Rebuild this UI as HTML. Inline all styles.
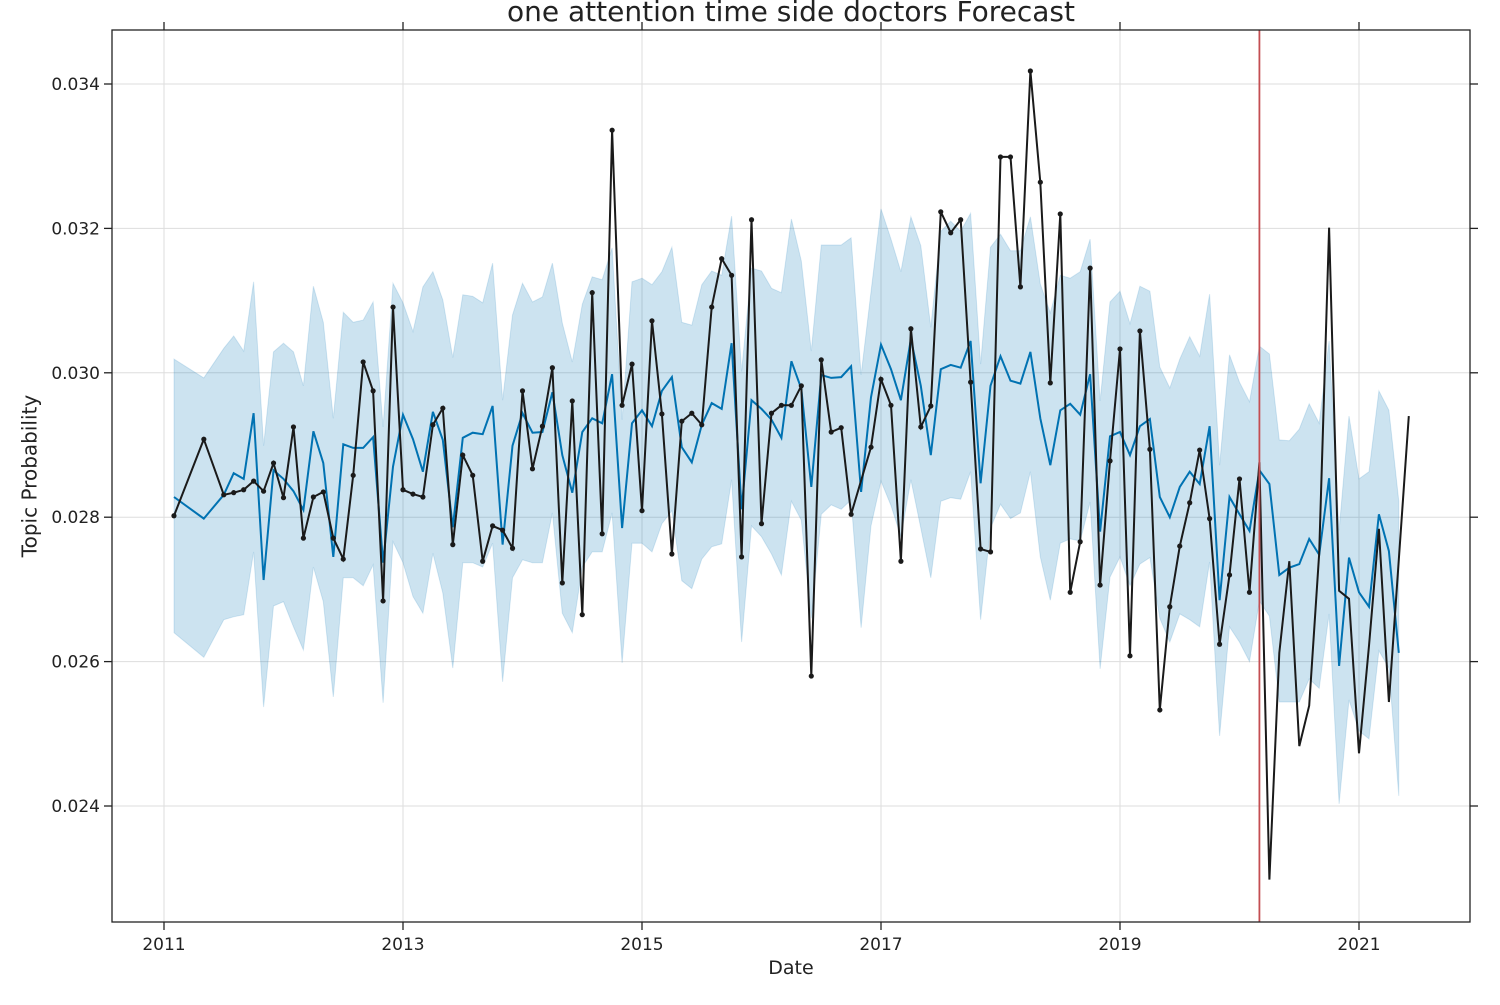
<!DOCTYPE html>
<html><head><meta charset="utf-8"><style>
body{margin:0;background:#fff;}
svg text{font-family:"DejaVu Sans","Liberation Sans",sans-serif;fill:#222;}
</style></head><body>
<svg id="chart" width="1500" height="1000" xmlns="http://www.w3.org/2000/svg">
<rect x="0" y="0" width="1500" height="1000" fill="#fff"/>
<g id="grid"></g>
<g id="band"></g>
<g id="lines"></g>
<rect x="112" y="30" width="1358" height="892" fill="none" stroke="#222" stroke-width="1.3"/>
<g id="axes"></g>
<text x="791" y="21" font-size="28" text-anchor="middle">one attention time side doctors Forecast</text>
<text x="791" y="974" font-size="19" text-anchor="middle">Date</text>
<text x="31" y="476" font-size="20" text-anchor="middle" dominant-baseline="middle" transform="rotate(-90 31 476)">Topic Probability</text>
</svg>
<script>
const startYear = 2011, startMonth = 2;
const actual = [28.02,null,null,29.08,null,28.31,28.34,28.38,28.50,28.36,28.75,28.27,29.25,27.71,28.28,28.35,27.71,27.42,28.58,30.15,29.75,26.84,30.91,28.38,28.32,28.28,29.28,29.51,27.62,28.86,28.58,27.39,27.88,27.82,27.57,29.75,28.67,29.26,30.07,27.09,29.61,26.65,31.11,27.77,33.36,29.55,30.12,28.09,30.72,29.43,27.49,29.33,29.44,29.28,30.91,31.58,31.35,27.45,32.12,27.91,29.44,29.55,29.55,29.82,25.80,30.18,29.18,29.24,28.04,null,28.97,29.91,29.55,27.39,30.61,29.25,29.54,32.23,31.94,32.12,29.87,27.56,27.52,32.99,32.99,31.19,34.18,32.64,29.86,32.20,26.96,27.66,31.45,27.06,28.78,30.33,26.08,30.58,28.94,25.33,26.76,27.60,28.20,28.93,27.98,26.24,27.20,28.53,26.96,28.76,22.98,26.12,27.39,24.83,25.39,27.50,32.01,26.98,26.87,24.73,26.22,27.84,25.44,null,29.40];
const lastMarkerIndex = 108;
const yhat = [28.28,null,null,27.98,null,28.31,28.61,28.53,29.44,27.13,28.65,28.53,28.36,28.10,29.19,28.75,27.45,29.01,28.96,28.96,29.11,27.37,28.70,29.42,29.08,28.63,29.46,29.07,27.86,29.10,29.17,29.15,29.54,27.62,28.99,29.44,29.17,29.18,29.73,28.86,28.34,29.18,29.37,29.30,29.98,27.85,29.30,29.48,29.26,29.75,29.94,28.97,28.76,29.28,29.58,29.50,30.41,28.11,29.62,29.50,29.35,29.10,30.16,29.78,28.42,29.97,29.93,29.94,30.09,28.35,29.66,30.39,30.05,29.62,30.47,29.82,28.86,30.05,30.11,30.07,30.44,28.47,29.82,30.23,29.89,29.85,30.29,29.37,28.72,29.48,29.57,29.42,29.98,27.80,29.12,29.18,28.86,29.26,29.36,28.28,28.00,28.42,28.63,28.46,29.26,26.85,28.28,28.04,27.81,28.65,28.46,27.20,27.30,27.35,27.70,27.48,28.54,25.94,27.44,26.96,26.76,28.04,27.53,26.12];
const upper = [30.19,null,null,29.93,null,30.34,30.51,30.30,31.26,28.99,30.29,30.41,30.29,29.82,31.20,30.70,29.37,30.84,30.70,30.73,30.98,29.25,31.24,30.97,30.57,31.19,31.40,31.01,30.21,31.08,31.06,30.97,31.52,29.62,30.80,31.24,30.98,31.05,31.52,30.69,30.15,30.95,31.33,31.29,31.73,29.35,31.26,31.31,31.22,31.40,31.74,30.70,30.66,31.22,31.41,31.35,32.17,30.02,31.45,31.41,31.17,31.11,32.13,31.55,30.30,31.77,31.77,31.77,31.87,29.97,31.12,32.27,31.85,31.40,32.16,31.76,30.63,31.96,32.10,31.96,32.21,30.12,31.74,31.92,31.69,31.69,32.16,31.23,30.83,31.35,31.31,31.40,31.85,29.61,30.98,31.13,30.68,31.20,31.13,30.08,29.79,30.19,30.50,30.23,31.09,28.72,30.25,29.87,29.60,30.37,30.26,29.07,29.06,29.22,29.57,29.30,30.44,27.82,29.40,28.53,28.63,29.75,29.48,28.22];
const lower = [26.40,null,null,26.06,null,26.58,26.62,26.65,27.52,25.37,26.77,26.83,26.48,26.16,27.31,26.83,25.51,27.16,27.16,27.05,27.34,25.43,27.66,27.37,26.90,26.67,27.50,26.95,25.91,27.37,27.37,27.31,27.64,25.72,27.16,27.41,27.37,27.37,28.06,26.67,26.40,27.31,27.52,27.52,28.06,25.98,27.64,27.64,27.52,27.91,28.09,27.12,27.01,27.42,27.59,27.63,28.52,26.27,27.88,27.73,27.49,27.20,28.22,27.96,26.60,28.04,28.17,28.11,28.24,26.47,27.88,28.50,28.16,27.73,28.52,27.85,27.16,28.22,28.27,28.25,28.63,26.58,27.85,28.18,27.98,28.06,28.63,27.45,26.85,27.64,27.70,27.67,28.21,25.90,27.17,27.45,27.05,27.35,27.44,26.60,26.27,26.66,26.58,26.48,27.38,24.97,26.48,26.27,26.00,26.84,26.63,25.44,25.44,25.44,25.76,25.63,26.66,24.03,25.47,25.04,24.93,26.15,25.91,24.14];
const yTicks = [0.024,0.026,0.028,0.030,0.032,0.034];
const yTickLabels = ["0.024","0.026","0.028","0.030","0.032","0.034"];
const xTicks = [2011,2013,2015,2017,2019,2021];
const xTickLabels = ["2011","2013","2015","2017","2019","2021"];
const changepointDate = 2020 + 2/12;

const NS = "http://www.w3.org/2000/svg";
function X(year){ return 164 + (year - 2011) * 119.5; }
function Y(v){ return 84 + (0.034 - v) / 0.002 * 144.4; }
function dateOf(i){ return startYear + (startMonth - 1 + i) / 12; }
function mk(tag, attrs, parent){ const e = document.createElementNS(NS, tag); for (const k in attrs) e.setAttribute(k, attrs[k]); parent.appendChild(e); return e; }

const grid = document.getElementById('grid'), axes = document.getElementById('axes');
yTicks.forEach((t, i) => {
  const y = Y(t);
  const gl = mk('line', {x1:112, x2:1470, y1:y, y2:y, stroke:'#ddd', 'stroke-width':1}, grid);
  
  
  const tl = mk('line', {x1:104, x2:112, y1:y, y2:y, stroke:'#222', 'stroke-width':1.3}, axes);
  
  
  const tr = mk('line', {x1:1470, x2:1478, y1:y, y2:y, stroke:'#222', 'stroke-width':1.3}, axes);
  
  
  const tx = mk('text', {x:100, y:y + 6, 'font-size':17, 'text-anchor':'end'}, axes);
  tx.textContent = yTickLabels[i];
  
  
});
xTicks.forEach((t, i) => {
  const x = X(t);
  const gl = mk('line', {x1:x, x2:x, y1:30, y2:922, stroke:'#ddd', 'stroke-width':1}, grid);
  
  
  const tb = mk('line', {x1:x, x2:x, y1:922, y2:930, stroke:'#222', 'stroke-width':1.3}, axes);
  
  
  const tt = mk('line', {x1:x, x2:x, y1:22, y2:30, stroke:'#222', 'stroke-width':1.3}, axes);
  
  
  const tx = mk('text', {x:x, y:950, 'font-size':17, 'text-anchor':'middle'}, axes);
  tx.textContent = xTickLabels[i];
  
  
});

let up = [], lo = [];
upper.forEach((v, i) => { if (v !== null) up.push(X(dateOf(i)).toFixed(1) + ',' + Y(v / 1000).toFixed(1)); });
for (let i = lower.length - 1; i >= 0; i--) { if (lower[i] !== null) lo.push(X(dateOf(i)).toFixed(1) + ',' + Y(lower[i] / 1000).toFixed(1)); }
const band = mk('polygon', {points: up.concat(lo).join(' '), fill:'#0072B2', 'fill-opacity':0.2, stroke:'#0072B2', 'stroke-opacity':0.15}, document.getElementById('band'));



const lines = document.getElementById('lines');
function pts(arr){ const p = []; arr.forEach((v, i) => { if (v !== null) p.push(X(dateOf(i)).toFixed(1) + ',' + Y(v / 1000).toFixed(1)); }); return p.join(' '); }
const fl = mk('polyline', {points: pts(yhat), fill:'none', stroke:'#0072B2', 'stroke-width':2}, lines);


const al = mk('polyline', {points: pts(actual), fill:'none', stroke:'#1a1a1a', 'stroke-width':2}, lines);


actual.forEach((v, i) => {
  if (v === null || i > lastMarkerIndex) return;
  const c = mk('circle', {cx: X(dateOf(i)), cy: Y(v / 1000), r: 2.6, fill:'#1a1a1a'}, lines);
  
  
});
const cp = mk('line', {x1: X(changepointDate), x2: X(changepointDate), y1:30, y2:922, stroke:'#c44e52', 'stroke-width':1.8}, lines);


</script>
</body></html>
